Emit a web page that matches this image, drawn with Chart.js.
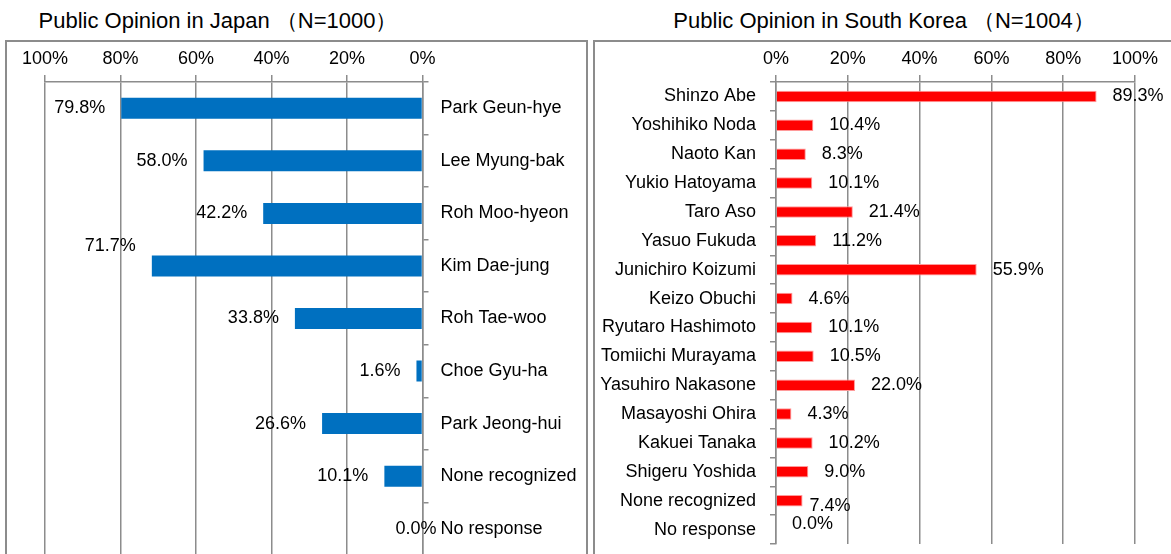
<!DOCTYPE html>
<html>
<head>
<meta charset="utf-8">
<script src="https://cdn.jsdelivr.net/npm/chart.js@4/dist/chart.umd.min.js"></script>
<style>
  body { margin: 0; background: #fff; overflow: hidden; width: 1171px; height: 554px; position: relative; }
  .title { position: absolute; top: 6px; font-family: 'Liberation Sans Narrow', 'Arial Narrow', 'Liberation Sans', Arial, sans-serif; font-size: 22px; color: #000; white-space: nowrap; transform: translateX(-50%); }
  .box { position: absolute; top: 40px; border: 2px solid #8c8c8c; background: #fff; }
</style>
</head>
<body>
<div class="title" style="left:218px">Public Opinion in Japan （N=1000）</div>
<div class="title" style="left:884px">Public Opinion in South Korea （N=1004）</div>
<div class="box" style="left:5px; width:579px; height:530px;"><canvas id="japanChart" width="579" height="520"></canvas></div>
<div class="box" style="left:593px; width:600px; height:530px;"><canvas id="koreaChart" width="580" height="512"></canvas></div>

<script>
// Japanese respondents: Korean presidents
var japanNames = ['Park Geun-hye', 'Lee Myung-bak', 'Roh Moo-hyeon', 'Kim Dae-jung', 'Roh Tae-woo',
                  'Choe Gyu-ha', 'Park Jeong-hui', 'None recognized', 'No response'];
var japanValues = [79.8, 58.0, 42.2, 71.7, 33.8, 1.6, 26.6, 10.1, 0.0];

// Korean respondents: Japanese prime ministers
var koreaNames = ['Shinzo Abe', 'Yoshihiko Noda', 'Naoto Kan', 'Yukio Hatoyama', 'Taro Aso', 'Yasuo Fukuda',
                  'Junichiro Koizumi', 'Keizo Obuchi', 'Ryutaro Hashimoto', 'Tomiichi Murayama',
                  'Yasuhiro Nakasone', 'Masayoshi Ohira', 'Kakuei Tanaka', 'Shigeru Yoshida',
                  'None recognized', 'No response'];
var koreaValues = [89.3, 10.4, 8.3, 10.1, 21.4, 11.2, 55.9, 4.6, 10.1, 10.5, 22.0, 4.3, 10.2, 9.0, 7.4, 0.0];

var percentTicks = [0, 20, 40, 60, 80, 100];

var FONT = "'Liberation Sans Narrow', 'Arial Narrow', 'Liberation Sans', Arial, sans-serif";
var GRID = '#8c8c8c';

// draws "xx.x%" next to the end of each bar
var valueLabels = {
  id: 'valueLabels',
  afterDatasetsDraw: function(chart, args, opts) {
    var ctx = chart.ctx;
    var meta = chart.getDatasetMeta(0);
    var values = chart.data.datasets[0].data;
    ctx.save();
    ctx.font = '18px ' + FONT;
    ctx.fillStyle = '#000';
    ctx.textBaseline = 'middle';
    meta.data.forEach(function(bar, i) {
      var nudge = (opts.nudge && opts.nudge[i]) || [0, 0];
      var text = values[i].toFixed(1) + '%';
      if (opts.side === 'left') {
        ctx.textAlign = 'right';
        ctx.fillText(text, bar.x - 16 + nudge[0], bar.y + nudge[1]);
      } else {
        ctx.textAlign = 'left';
        ctx.fillText(text, bar.x + 16 + nudge[0], bar.y + nudge[1]);
      }
    });
    ctx.restore();
  }
};

function xScale(reverse) {
  return {
    position: 'top',
    reverse: reverse,
    min: 0,
    max: 100,
    afterBuildTicks: function(scale) { scale.ticks = percentTicks.map(function(v) { return { value: v }; }); },
    afterFit: function(scale) { scale.height = 40; },
    ticks: { color: '#000', font: { family: FONT, size: 18 }, padding: 5, maxRotation: 0,
             callback: function(v) { return v + '%'; } },
    grid: { color: GRID, lineWidth: 1.5, tickLength: 7, tickColor: GRID },
    border: { color: GRID, width: 1.5 }
  };
}

function yScale(position, width, pad) {
  return {
    position: position,
    afterFit: function(scale) {
      scale.width = width;
      scale.paddingTop = 0;
      scale.paddingBottom = 0;
    },
    ticks: { color: '#000', font: { family: FONT, size: 18 }, padding: pad, autoSkip: false },
    grid: { drawOnChartArea: false, color: GRID, lineWidth: 1.5, tickLength: 6, tickColor: GRID },
    border: { color: GRID, width: 1.5 }
  };
}

new Chart(document.getElementById('japanChart'), {
  type: 'bar',
  data: {
    labels: japanNames,
    datasets: [{
      data: japanValues,
      backgroundColor: '#0070C0',
      categoryPercentage: 1,
      barPercentage: 0.4
    }]
  },
  options: {
    indexAxis: 'y',
    responsive: false,
    animation: false,
    layout: { padding: { left: 38, right: 0, top: 0, bottom: 7 } },
    scales: { x: xScale(true), y: yScale('right', 163.5, 12) },
    plugins: {
      legend: { display: false },
      tooltip: { enabled: false },
      valueLabels: { side: 'left', nudge: { 3: [0, -20], 8: [30, 0] } }
    }
  },
  plugins: [valueLabels]
});

new Chart(document.getElementById('koreaChart'), {
  type: 'bar',
  data: {
    labels: koreaNames,
    datasets: [{
      data: koreaValues,
      backgroundColor: '#FF0000',
      borderColor: '#ff9a9a',
      borderWidth: 1,
      categoryPercentage: 1,
      barPercentage: 0.4
    }]
  },
  options: {
    indexAxis: 'y',
    responsive: false,
    animation: false,
    layout: { padding: { left: 0, right: 40, top: 0, bottom: 10 } },
    scales: { x: xScale(false), y: yScale('left', 181, 14) },
    plugins: {
      legend: { display: false },
      tooltip: { enabled: false },
      valueLabels: { side: 'right', nudge: { 14: [-9, 5], 15: [0, -6] } }
    }
  },
  plugins: [valueLabels]
});
</script>
</body>
</html>
